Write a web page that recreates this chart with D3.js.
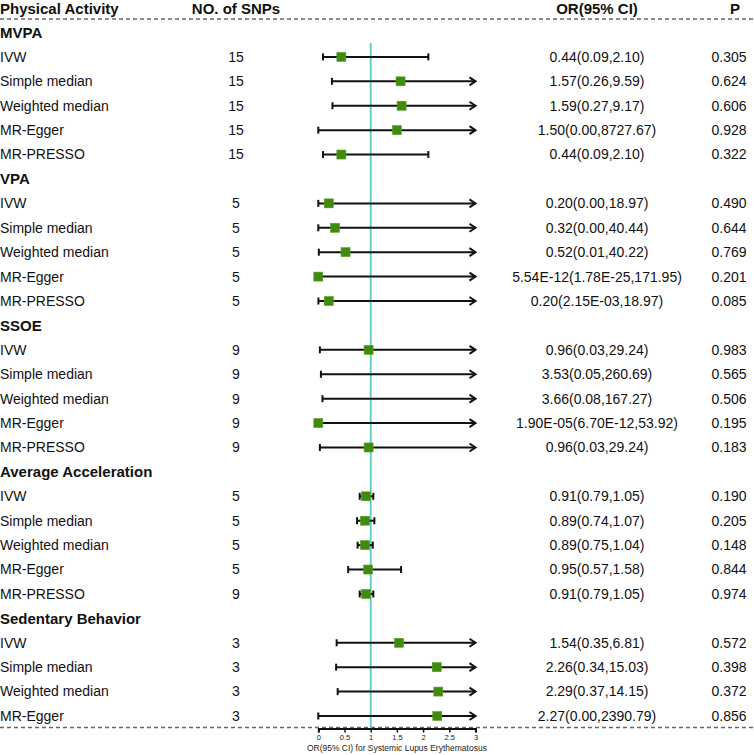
<!DOCTYPE html>
<html><head><meta charset="utf-8">
<script src="https://cdn.jsdelivr.net/npm/d3@7"></script>
<style>body{margin:0;background:#fff}svg{display:block;font-family:"Liberation Sans",Arial,sans-serif}</style>
</head><body><svg id="c" width="754" height="755"></svg>
<script>
const groupNames = ["MVPA","VPA","SSOE","Average Acceleration","Sedentary Behavior"];
const rowGroup   = [0,0,0,0,0, 1,1,1,1,1, 2,2,2,2,2, 3,3,3,3,3, 4,4,4,4];
const methodNames = ["IVW","Simple median","Weighted median","MR-Egger","MR-PRESSO",
  "IVW","Simple median","Weighted median","MR-Egger","MR-PRESSO",
  "IVW","Simple median","Weighted median","MR-Egger","MR-PRESSO",
  "IVW","Simple median","Weighted median","MR-Egger","MR-PRESSO",
  "IVW","Simple median","Weighted median","MR-Egger"];
const snps = [15,15,15,15,15, 5,5,5,5,5, 9,9,9,9,9, 5,5,5,5,9, 3,3,3,3];
const orValues = [0.44,1.57,1.59,1.50,0.44, 0.20,0.32,0.52,5.54e-12,0.20, 0.96,3.53,3.66,1.90e-5,0.96, 0.91,0.89,0.89,0.95,0.91, 1.54,2.26,2.29,2.27];
const lowerValues = [0.09,0.26,0.27,0.00,0.09, 0.00,0.00,0.01,1.78e-25,2.15e-3, 0.03,0.05,0.08,6.70e-12,0.03, 0.79,0.74,0.75,0.57,0.79, 0.35,0.34,0.37,0.00];
const upperValues = [2.10,9.59,9.17,8727.67,2.10, 18.97,40.44,40.22,171.95,18.97, 29.24,260.69,167.27,53.92,29.24, 1.05,1.07,1.04,1.58,1.05, 6.81,15.03,14.15,2390.79];
const orLabels = ["0.44(0.09,2.10)","1.57(0.26,9.59)","1.59(0.27,9.17)","1.50(0.00,8727.67)","0.44(0.09,2.10)",
  "0.20(0.00,18.97)","0.32(0.00,40.44)","0.52(0.01,40.22)","5.54E-12(1.78E-25,171.95)","0.20(2.15E-03,18.97)",
  "0.96(0.03,29.24)","3.53(0.05,260.69)","3.66(0.08,167.27)","1.90E-05(6.70E-12,53.92)","0.96(0.03,29.24)",
  "0.91(0.79,1.05)","0.89(0.74,1.07)","0.89(0.75,1.04)","0.95(0.57,1.58)","0.91(0.79,1.05)",
  "1.54(0.35,6.81)","2.26(0.34,15.03)","2.29(0.37,14.15)","2.27(0.00,2390.79)"];
const pLabels = ["0.305","0.624","0.606","0.928","0.322","0.490","0.644","0.769","0.201","0.085",
  "0.983","0.565","0.506","0.195","0.183","0.190","0.205","0.148","0.844","0.974",
  "0.572","0.398","0.372","0.856"];
const headers = ["Physical Activity","NO. of SNPs","OR(95% CI)","P"];
const axisTicks = [0,0.5,1,1.5,2,2.5,3];
const axisTitle = "OR(95% CI) for Systemic Lupus Erythematosus";

// build row list: group header rows + data rows
const rows = [];
groupNames.forEach((g,gi)=>{
  rows.push({type:"group", label:g, id:"g"+gi});
  rowGroup.forEach((rg,i)=>{ if(rg===gi) rows.push({type:"data", i, id:"r"+i}); });
});

const svg = d3.select("#c");
const x = d3.scaleLinear().domain([0,3]).range([318.3,475.5]);
const y = d3.scalePoint().domain(rows.map(r=>r.id)).range([32.5,716]);
const green = "#3f8c0c";

// header
const hdr = svg.append("g").attr("font-weight","bold").attr("font-size",15).attr("fill","#111");
hdr.append("text").attr("x",0).attr("y",9).attr("dy","0.35em").text(headers[0]);
hdr.append("text").attr("x",236).attr("y",9).attr("dy","0.35em").attr("text-anchor","middle").text(headers[1]);
hdr.append("text").attr("x",597).attr("y",9).attr("dy","0.35em").attr("text-anchor","middle").text(headers[2]);
hdr.append("text").attr("x",735).attr("y",9).attr("dy","0.35em").attr("text-anchor","middle").text(headers[3]);

// dashed lines
[19,727.5].forEach(yy=>svg.append("line").attr("x1",0).attr("x2",754).attr("y1",yy).attr("y2",yy)
  .attr("stroke","#666").attr("stroke-width",1.3).attr("stroke-dasharray","4,3"));

// reference line
svg.append("line").attr("x1",x(1)).attr("x2",x(1)).attr("y1",43).attr("y2",728)
  .attr("stroke","#5cc8cc").attr("stroke-width",1.8);

// group labels
svg.append("g").selectAll("text").data(rows.filter(r=>r.type==="group")).join("text")
  .attr("x",0).attr("y",d=>y(d.id)).attr("dy","0.35em").attr("font-size",15).attr("font-weight","bold")
  .attr("fill","#111").text(d=>d.label);

const data = rows.filter(r=>r.type==="data");
const txt = svg.append("g").attr("font-size",14).attr("fill","#111");
txt.selectAll(".m").data(data).join("text").attr("x",0).attr("y",d=>y(d.id)).attr("dy","0.35em").text(d=>methodNames[d.i]);
txt.selectAll(".n").data(data).join("text").attr("x",236).attr("y",d=>y(d.id)).attr("dy","0.35em").attr("text-anchor","middle").text(d=>snps[d.i]);
txt.selectAll(".o").data(data).join("text").attr("x",597).attr("y",d=>y(d.id)).attr("dy","0.35em").attr("text-anchor","middle").text(d=>orLabels[d.i]);
txt.selectAll(".p").data(data).join("text").attr("x",729).attr("y",d=>y(d.id)).attr("dy","0.35em").attr("text-anchor","middle").text(d=>pLabels[d.i]);

// error bars
const eb = svg.append("g").attr("stroke","#111").attr("stroke-width",2).attr("fill","none");
const clamp = v=>Math.max(0,Math.min(3,v));
data.forEach(d=>{
  const yy = y(d.id);
  const lo = x(clamp(lowerValues[d.i])), hi = x(clamp(upperValues[d.i]));
  eb.append("line").attr("x1",lo).attr("x2",hi).attr("y1",yy).attr("y2",yy);
  eb.append("line").attr("x1",lo).attr("x2",lo).attr("y1",yy-3.5).attr("y2",yy+3.5);
  if(upperValues[d.i] > 3){
    eb.append("path").attr("d",`M${hi-6},${yy-4}L${hi},${yy}L${hi-6},${yy+4}`).attr("stroke-width",2);
  } else {
    eb.append("line").attr("x1",hi).attr("x2",hi).attr("y1",yy-3.5).attr("y2",yy+3.5);
  }
});

// points
svg.append("g").selectAll("rect").data(data.filter(d=>orValues[d.i]<=3)).join("rect")
  .attr("x",d=>x(orValues[d.i])-4.5).attr("y",d=>y(d.id)-4.5).attr("width",9).attr("height",9)
  .attr("fill",green).attr("stroke","#5a9e2a").attr("stroke-width",0.6);

// axis
const ax = svg.append("g").attr("transform","translate(0,728.5)")
  .call(d3.axisBottom(x).tickValues(axisTicks).tickFormat(d3.format("")).tickSize(4).tickSizeOuter(4));
ax.select(".domain").attr("stroke","#111").attr("stroke-width",2);
ax.selectAll(".tick line").attr("stroke","#111").attr("stroke-width",1.5);
ax.selectAll(".tick text").attr("font-size",7.5).attr("fill","#222").attr("y",6).attr("font-family","Liberation Sans, Arial, sans-serif");
svg.append("text").attr("x",x(1.5)).attr("y",751).attr("text-anchor","middle").attr("font-size",8.5)
  .attr("fill","#222").text(axisTitle);
</script></body></html>
